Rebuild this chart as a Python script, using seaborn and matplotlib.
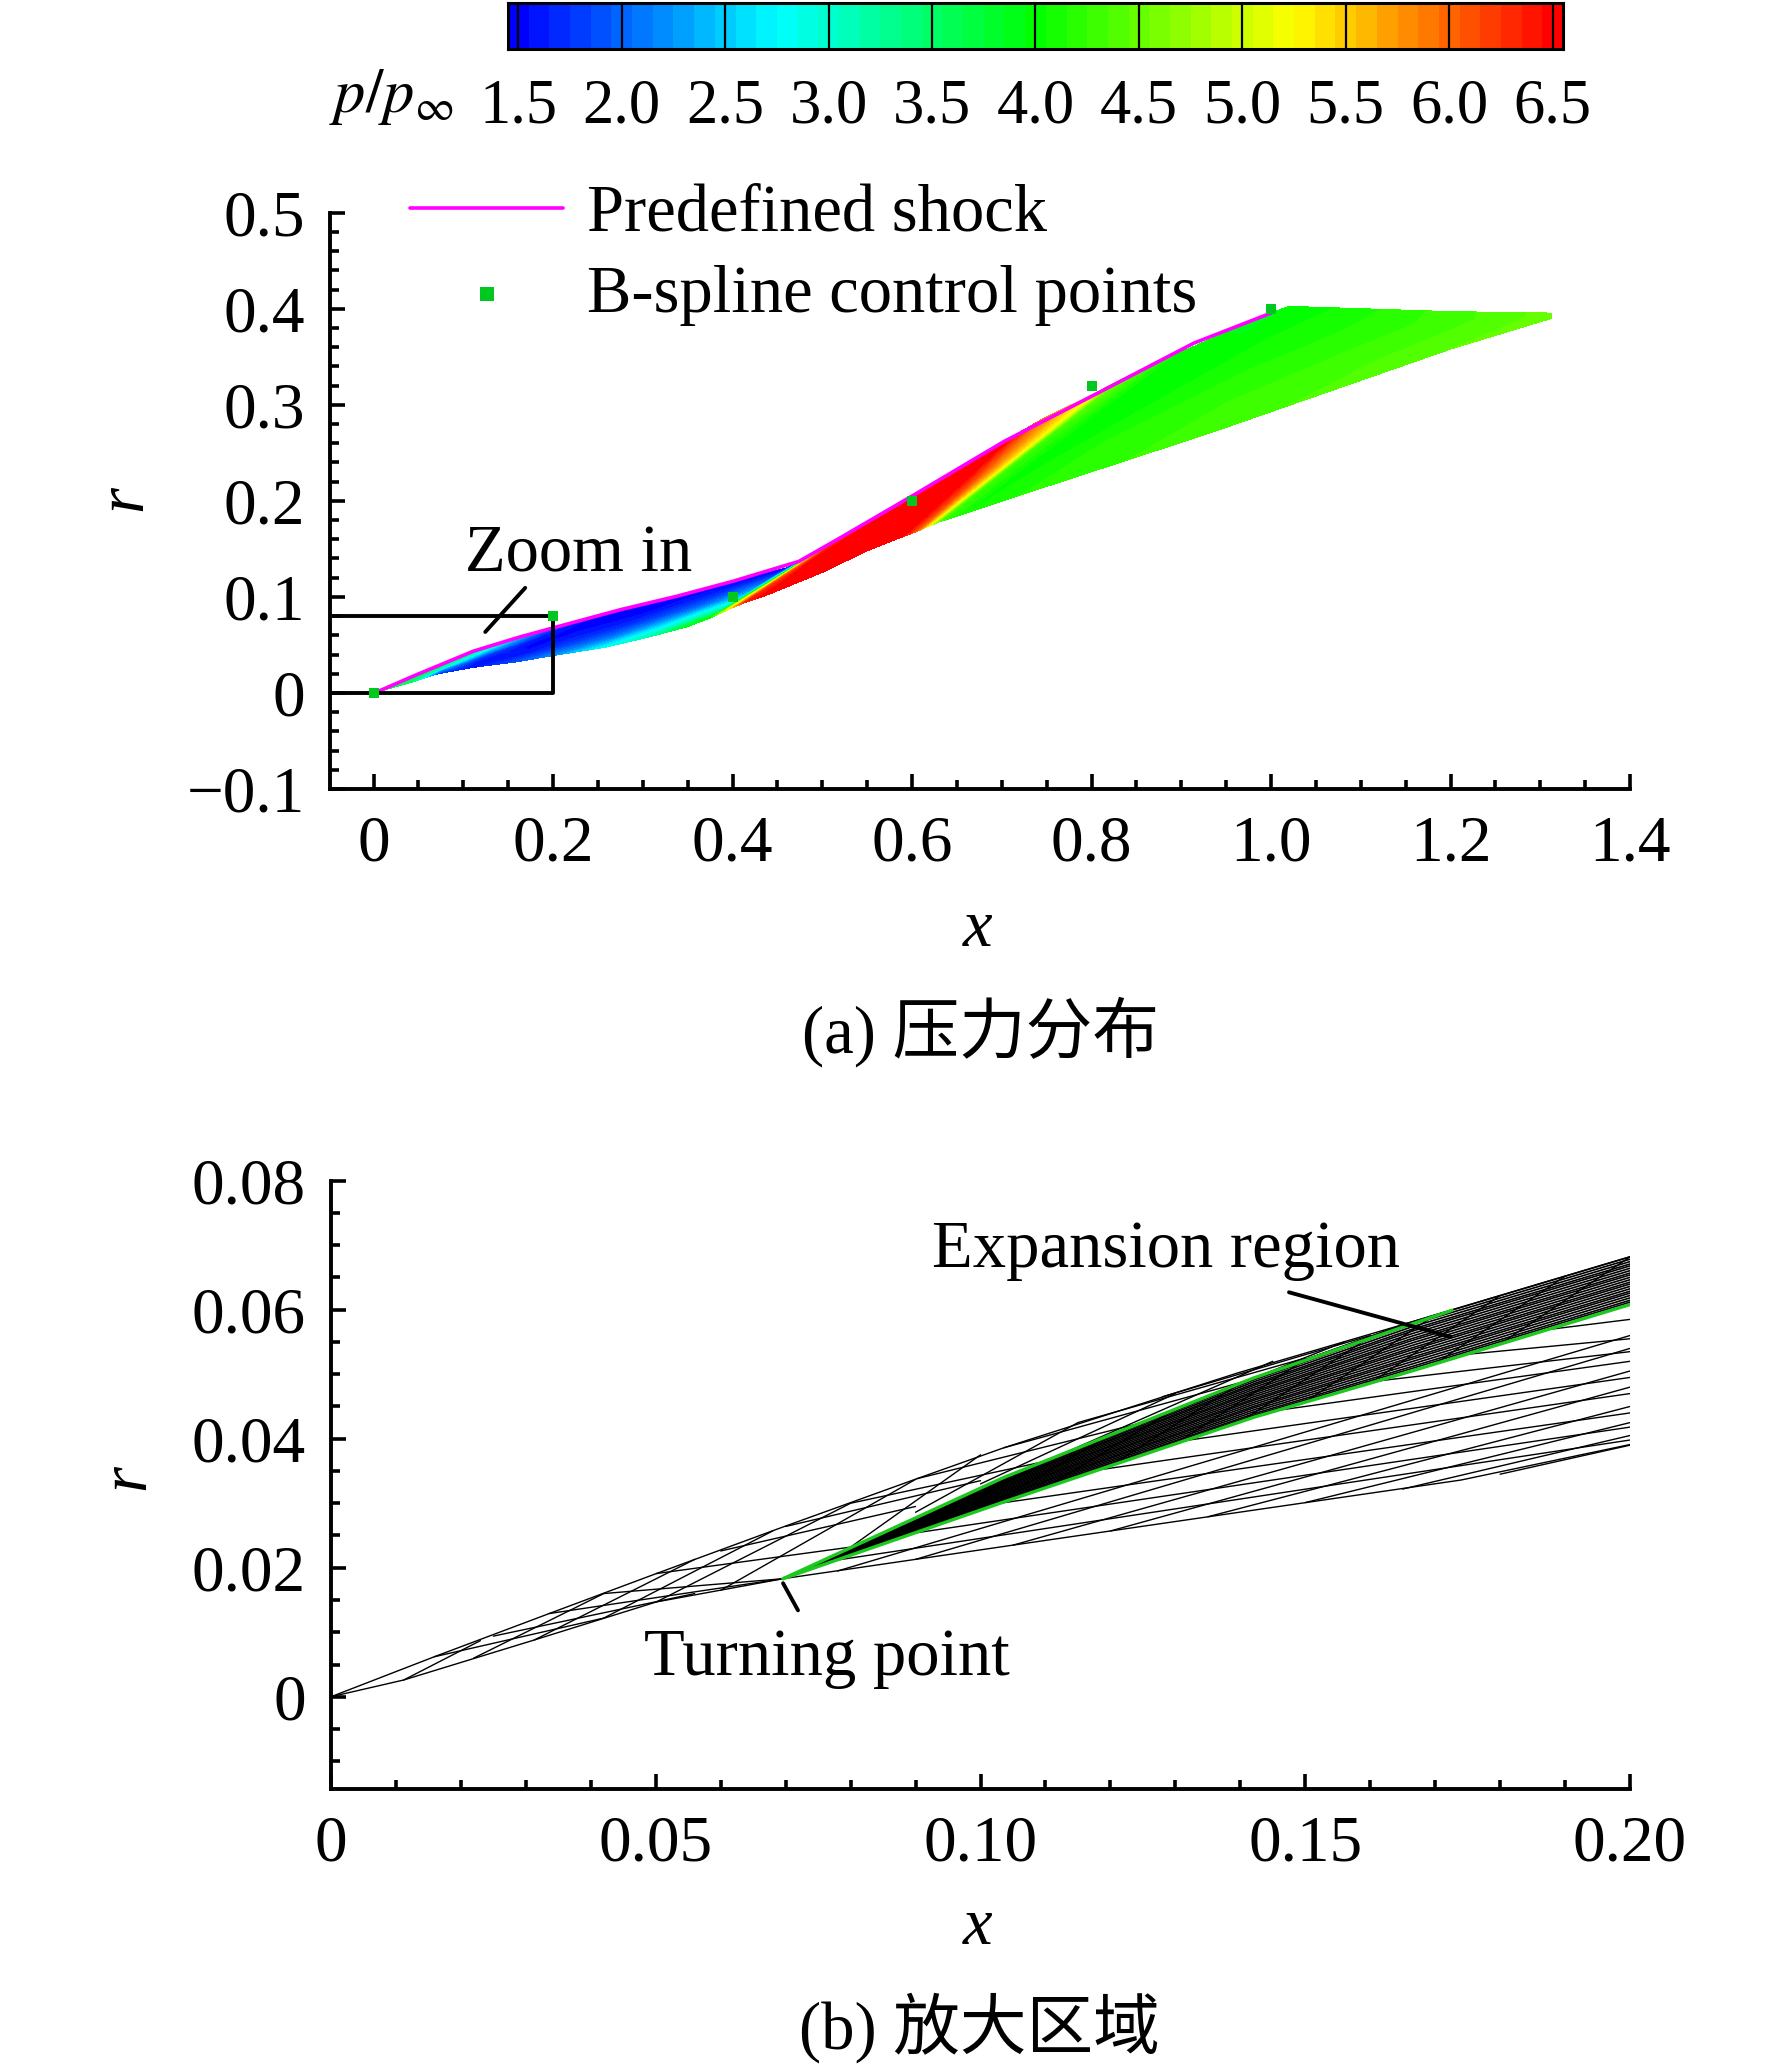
import matplotlib as mpl
import matplotlib.pyplot as plt
import seaborn as sns
import numpy as np
from matplotlib.colors import LinearSegmentedColormap, Normalize
from matplotlib.ticker import MultipleLocator

# Values

# colour scale
pressure_ticks = [1.5, 2.0, 2.5, 3.0, 3.5, 4.0, 4.5, 5.0, 5.5, 6.0, 6.5]
pressure_tick_labels = ["1.5", "2.0", "2.5", "3.0", "3.5", "4.0", "4.5", "5.0", "5.5", "6.0", "6.5"]
rainbow_colors = ["#0000ff", "#00ffff", "#00ff00", "#ffff00", "#ff0000"]

# panel (a): predefined shock and control points
shock_x = [0, .0085, .048, .111, .162, .2, .2756, .338, .4006, .474, .52, .6, .7025, .8033, .914, 1.0]
shock_r = [0, .003, .019, .0434, .058, .0677, .0868, .1007, .1163, .137, .1615, .205, .2618, .3104, .3642, .3955]
control_x = [0, .2, .4, .6, .8, 1.0]
control_r = [0, .08, .1, .2, .32, .4]

# panel (a): pressure field, along rays running from the lower edge to the upper edge
ray_fraction = [0, .25, .5, .75, 1]
ray_lower_x = [0, .040, .071, .110, .160, .200, .2585, .310, .349, .375, .395, .415, .440, .500, .550, .585, .605, .617, .630, .660, .750, .930, 1.200, 1.3125]
ray_lower_r = [0, .0105, .0198, .0265, .0325, .0389, .0476, .059, .0688, .078, .0868, .0945, .1025, .1255, .148, .161, .168, .173, .178, .187, .215, .270, .358, .390]
ray_upper_x = [0, .045, .090, .135, .190, .245, .300, .350, .395, .460, .478, .495, .515, .600, .700, .7025, .745, .808, .830, .900, 1.000, 1.020, 1.200, 1.3125]
ray_upper_r = [0, .0175, .0355, .0500, .0650, .0790, .0925, .104, .1145, .130, .1385, .147, .158, .205, .2600, .2618, .285, .314, .325, .355, .3955, .4025, .397, .3955]
ray_pressure = [
    [3.6, 3.6, 3.6, 3.6, 3.6],
    [3.6, 3.6, 3.6, 3.6, 3.7],
    [1.8, 2.2, 2.9, 3.3, 3.5],
    [1.6, 1.6, 1.8, 2.4, 3.0],
    [1.9, 1.6, 1.5, 1.6, 2.0],
    [2.2, 1.8, 1.6, 1.5, 1.5],
    [2.8, 2.1, 1.7, 1.5, 1.45],
    [3.2, 2.5, 1.9, 1.6, 1.45],
    [3.9, 2.9, 2.1, 1.7, 1.5],
    [4.0, 3.0, 2.4, 2.0, 1.5],
    [5.2, 5.0, 4.2, 3.0, 2.0],
    [6.4, 6.2, 6.0, 5.5, 4.2],
    [6.5, 6.5, 6.5, 6.4, 6.2],
    [6.6, 6.6, 6.6, 6.6, 6.6],
    [6.6, 6.6, 6.6, 6.6, 6.6],
    [6.6, 6.6, 6.6, 6.6, 6.6],
    [6.0, 6.1, 6.1, 6.0, 5.9],
    [5.25, 5.25, 5.25, 5.2, 5.1],
    [4.3, 4.3, 4.3, 4.4, 4.5],
    [4.05, 4.0, 4.0, 4.0, 4.0],
    [4.2, 4.15, 4.05, 4.0, 3.9],
    [4.3, 4.25, 4.15, 4.05, 3.95],
    [4.45, 4.4, 4.35, 4.3, 4.3],
    [4.5, 4.5, 4.5, 4.5, 4.5],
]

# panel (b): mesh outline
mesh_top_x = [0, .0159, .0336, .0501, .069, .0902, .1036, .1396, .1664, .2]
mesh_top_r = [0, .0062, .0129, .0191, .0261, .0338, .0386, .0502, .0581, .0682]
mesh_bottom_x = [0, .0112, .0313, .0501, .0696, .1036, .174, .2]
mesh_bottom_r = [0, .0026, .0088, .0147, .0183, .0233, .0336, .0391]

# panel (b): edges of the expansion region
edge_x = [.0696, .1036, .142, .1664, .2]
edge_upper_r = [.0183, .034, .0494, .0581, .0682]
edge_lower_r = [.0183, .0302, .0433, .0505, .0608]
green_upper_x = [.0696, .1036, .142, .1726]
green_upper_r = [.0183, .034, .0494, .0599]
fan_fractions = [0, .05, .09, .14, .19, .24, .28, .33, .38, .43, .47, .52, .57, .62, .66, .71, .76, .81, .85, .9, .95, 1]

# panel (b): mesh lines, each as [x0, r0, x1, r1]
steep_segments = [
    [.0112, .0026, .0230, .0087], [.0220, .0060, .0420, .0160], [.0313, .0088, .0560, .0213],
    [.0420, .0122, .0680, .0257], [.0501, .0147, .0800, .0300], [.0600, .0165, .0900, .0337],
    [.0800, .0232, .1000, .0375], [.0900, .0286, .1150, .0425], [.1000, .0330, .1300, .0470],
    [.1100, .0365, .1450, .0520], [.1250, .0425, .1560, .0550], [.1400, .0487, .1660, .0580],
]
shallow_segments = [
    [.0159, .0062, .0420, .0122], [.0250, .0094, .0560, .0160], [.0336, .0129, .0696, .0183],
    [.0420, .0160, .0696, .0183], [.0501, .0191, .0800, .0232], [.0600, .0226, .0900, .0295],
    [.0700, .0264, .1000, .0335], [.0800, .0300, .1100, .0365], [.0902, .0338, .1250, .0425],
    [.1036, .0386, .1400, .0487], [.1150, .0425, .1500, .0525], [.1280, .0465, .1600, .0560],
]
# lines leaving the lower edge of the fan towards the right border
outer_start_x = [.0780, .0900, .1030, .1170, .1300, .1450, .1590, .1740, .1880]
outer_start_r = [.0212, .0254, .0300, .0350, .0395, .0443, .0487, .0530, .0570]
outer_end_r = [.0398, .0418, .0440, .0470, .0495, .0520, .0535, .0555, .0585]
# lines leaving the mesh bottom, nearly parallel to the fan
rising_start_x = [.0780, .0900, .1050, .1200, .1350, .1500, .1650, .1800]
rising_start_r = [.0195, .0213, .0235, .0257, .0279, .0301, .0322, .0345]
rising_end_r = [.0560, .0540, .0505, .0480, .0450, .0425, .0405, .0390]
# short lines crossing the fan
cross_lower_x = [.08, .09, .10, .11, .12, .13, .14, .15, .16, .17, .18]
cross_lower_r = [.0219, .0254, .0289, .0324, .0358, .0392, .0426, .0457, .0486, .0516, .0547]
cross_upper_x = [.10, .11, .12, .13, .14, .15, .16, .17, .18, .19, .20]
cross_upper_r = [.0324, .0366, .0406, .0446, .0486, .0523, .0558, .0592, .0622, .0652, .0682]

# tick labels
a_x_ticks = [0, .2, .4, .6, .8, 1.0, 1.2, 1.4]
a_x_labels = ["0", "0.2", "0.4", "0.6", "0.8", "1.0", "1.2", "1.4"]
a_y_ticks = [-.1, 0, .1, .2, .3, .4, .5]
a_y_labels = ["\u22120.1", "0", "0.1", "0.2", "0.3", "0.4", "0.5"]
b_x_ticks = [0, .05, .10, .15, .20]
b_x_labels = ["0", "0.05", "0.10", "0.15", "0.20"]
b_y_ticks = [0, .02, .04, .06, .08]
b_y_labels = ["0", "0.02", "0.04", "0.06", "0.08"]

FIG_W, FIG_H = 1772, 2066
TICK_SIZE = 47
TEXT_SIZE = 48


def add_axes_px(fig, left, top, right, bottom):
    return fig.add_axes([left / FIG_W, 1 - bottom / FIG_H, (right - left) / FIG_W, (bottom - top) / FIG_H])


def style_axes(ax, x_ticks, x_labels, y_ticks, y_labels, x_minor, y_minor):
    ax.set_xticks(x_ticks)
    ax.set_xticklabels(x_labels)
    ax.set_yticks(y_ticks)
    ax.set_yticklabels(y_labels)
    ax.xaxis.set_minor_locator(MultipleLocator(x_minor))
    ax.yaxis.set_minor_locator(MultipleLocator(y_minor))
    ax.tick_params(axis="both", which="major", direction="in", length=11, width=2.6, labelsize=TICK_SIZE)
    ax.tick_params(axis="both", which="minor", direction="in", length=6.5, width=2.6)
    ax.tick_params(axis="x", which="major", pad=19)
    ax.tick_params(axis="y", which="major", pad=18)
    sns.despine(ax=ax)
    for side in ["left", "bottom"]:
        ax.spines[side].set_linewidth(2.8)
    ax.set_xlabel("x", style="italic", fontsize=TEXT_SIZE)
    ax.set_ylabel("r", style="italic", fontsize=TEXT_SIZE)
    ax.patch.set_alpha(0)


sns.set_theme(style="ticks")
plt.rcParams["font.family"] = ["Liberation Serif", "Noto Sans CJK SC"]
plt.rcParams["mathtext.fontset"] = "stix"
plt.rcParams["axes.edgecolor"] = "black"
plt.rcParams["xtick.color"] = "black"
plt.rcParams["ytick.color"] = "black"
plt.rcParams["text.color"] = "black"
plt.rcParams["axes.labelcolor"] = "black"

fig = plt.figure(figsize=(FIG_W / 100, FIG_H / 100), dpi=100)
cmap = LinearSegmentedColormap.from_list("tecplot_rainbow", rainbow_colors)
norm = Normalize(1.5, 6.5)
levels = np.arange(1.45, 6.56, 0.1)

## Colour bar on top
cax = add_axes_px(fig, 508, 3, 1563, 49)
bands = np.arange(1.5, 6.51, 0.1)
sns.heatmap(bands[np.newaxis, :], cmap=cmap, vmin=1.5, vmax=6.5, cbar=False, ax=cax,
            xticklabels=False, yticklabels=False)
tick_pos = [(t - 1.45) / 0.1 for t in pressure_ticks]
for pos in tick_pos:
    cax.axvline(pos, color="black", lw=1.6)
cax.set_xticks(tick_pos)
cax.set_xticklabels(pressure_tick_labels, rotation=0)
cax.tick_params(axis="x", length=0, labelsize=45, pad=21)
for spine in cax.spines.values():
    spine.set_visible(True)
    spine.set_linewidth(2.2)
    spine.set_color("black")
fig.text(391 / FIG_W, 1 - 97 / FIG_H, r"$p/p_{\infty}$", fontsize=45, ha="center", va="center")

## Panel (a): pressure distribution
ax1 = add_axes_px(fig, 330, 212.7, 1630, 789)
ray_x = np.outer(ray_lower_x, 1 - np.array(ray_fraction)) + np.outer(ray_upper_x, ray_fraction)
ray_r = np.outer(ray_lower_r, 1 - np.array(ray_fraction)) + np.outer(ray_upper_r, ray_fraction)
ax1.contourf(ray_x, ray_r, np.array(ray_pressure), levels=levels, cmap=cmap, norm=norm,
             extend="both", antialiased=False)

sns.lineplot(x=shock_x, y=shock_r, sort=False, estimator=None, color="#ff00ff", lw=2.6,
             label="Predefined shock", ax=ax1)
sns.scatterplot(x=control_x, y=control_r, marker="s", s=60, color="#00c81e", linewidth=0, zorder=5,
                clip_on=False, label="B-spline control points", ax=ax1)

ax1.plot([-.0485, .2, .2, -.0485], [.08, .08, 0, 0], color="black", lw=2.8)
ax1.plot([.169, .1245], [.1094, .0635], color="black", lw=2.8)
ax1.text(.229, .144, "Zoom in", fontsize=TEXT_SIZE, ha="center", va="center")

ax1.set_xlim(-.0485, 1.4)
ax1.set_ylim(-.1, .5)
style_axes(ax1, a_x_ticks, a_x_labels, a_y_ticks, a_y_labels, .05, .02)
ax1.xaxis.set_label_coords((978 - 330) / 1300, -(930 - 789) / 576.3, transform=ax1.transAxes)
ax1.yaxis.set_label_coords(-(330 - 125) / 1300, (789 - 498) / 576.3, transform=ax1.transAxes)
ax1.xaxis.label.set_va("center")
ax1.yaxis.label.set_va("center")

ax1.legend(loc="upper left", bbox_to_anchor=((410 - 330) / 1300, 1.05), frameon=False, fontsize=TEXT_SIZE,
           handlelength=2.3, handletextpad=.36, labelspacing=.3, borderpad=0, borderaxespad=0,
           markerscale=1.3)

fig.text(980 / FIG_W, 1 - 1032 / FIG_H, "(a) 压力分布", fontsize=TEXT_SIZE, ha="center", va="center")

## Panel (b): zoomed region, characteristic mesh
ax2 = add_axes_px(fig, 331, 1180.7, 1630, 1789)
mesh_lw = 1.0

ax2.plot(mesh_top_x, mesh_top_r, color="black", lw=mesh_lw)
ax2.plot(mesh_bottom_x, mesh_bottom_r, color="black", lw=mesh_lw)
for x0, r0, x1, r1 in steep_segments + shallow_segments:
    ax2.plot([x0, x1], [r0, r1], color="black", lw=mesh_lw)
for x0, r0, r1 in zip(outer_start_x, outer_start_r, outer_end_r):
    ax2.plot([x0, .2], [r0, r1], color="black", lw=mesh_lw)
for x0, r0, r1 in zip(rising_start_x, rising_start_r, rising_end_r):
    ax2.plot([x0, .2], [r0, r1], color="black", lw=mesh_lw)

# dense lines of the expansion region
upper = np.array(edge_upper_r)
lower = np.array(edge_lower_r)
for frac in fan_fractions:
    ax2.plot(edge_x, lower + frac * (upper - lower), color="black", lw=1.2)
for x0, r0, x1, r1 in zip(cross_lower_x, cross_lower_r, cross_upper_x, cross_upper_r):
    ax2.plot([x0, x1], [r0, r1], color="black", lw=mesh_lw)

sns.lineplot(x=green_upper_x, y=green_upper_r, sort=False, estimator=None, color="#1ec81e", lw=2.4, ax=ax2)
sns.lineplot(x=edge_x, y=edge_lower_r, sort=False, estimator=None, color="#1ec81e", lw=2.4, ax=ax2)

ax2.plot([.1475, .1724], [.0627, .0558], color="black", lw=2.8)
ax2.plot([.0696, .0719], [.0176, .0134], color="black", lw=2.8)
ax2.text(.1286, .0692, "Expansion region", fontsize=TEXT_SIZE, ha="center", va="center")
ax2.text(.0763, .0059, "Turning point", fontsize=TEXT_SIZE, ha="center", va="center")

ax2.set_xlim(0, .2)
ax2.set_ylim(-.0143, .08)
style_axes(ax2, b_x_ticks, b_x_labels, b_y_ticks, b_y_labels, .01, .005)
ax2.xaxis.set_label_coords((978 - 331) / 1299, -(1928 - 1789) / 608.3, transform=ax2.transAxes)
ax2.yaxis.set_label_coords(-(331 - 128) / 1299, (1789 - 1477) / 608.3, transform=ax2.transAxes)
ax2.xaxis.label.set_va("center")
ax2.yaxis.label.set_va("center")

fig.text(979 / FIG_W, 1 - 2028 / FIG_H, "(b) 放大区域", fontsize=TEXT_SIZE, ha="center", va="center")

plt.savefig("out.png", dpi=100)
plt.close()
